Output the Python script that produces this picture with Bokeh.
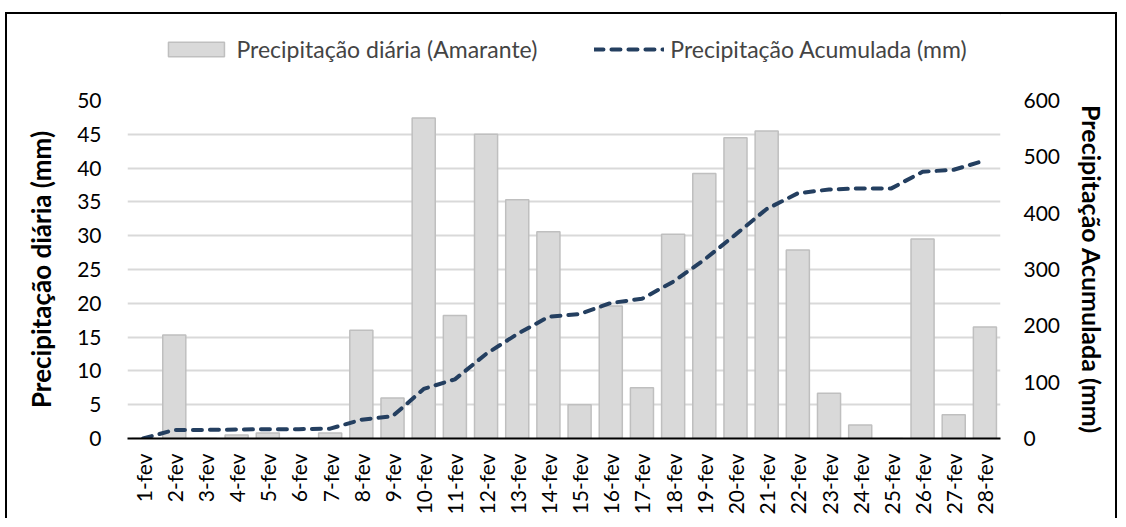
from bokeh.plotting import figure
from bokeh.models import (Range1d, LinearAxis, Legend, LegendItem, FactorRange,
                          ColumnDataSource, SingleIntervalTicker)
from bokeh.layouts import column
from bokeh.embed import file_html
from bokeh.resources import INLINE
import math

days = ["1-fev", "2-fev", "3-fev", "4-fev", "5-fev", "6-fev", "7-fev", "8-fev",
        "9-fev", "10-fev", "11-fev", "12-fev", "13-fev", "14-fev", "15-fev",
        "16-fev", "17-fev", "18-fev", "19-fev", "20-fev", "21-fev", "22-fev",
        "23-fev", "24-fev", "25-fev", "26-fev", "27-fev", "28-fev"]
daily = [0, 15.3, 0, 0.5, 0.8, 0, 0.8, 16.0, 6.0, 47.4, 18.2, 45.0, 35.3, 30.6,
         5.0, 19.6, 7.5, 30.2, 39.2, 44.5, 45.5, 27.9, 6.7, 2.0, 0, 29.5, 3.5, 16.5]
accum = [0, 15.3, 15.3, 15.8, 16.6, 16.6, 17.4, 33.4, 39.4, 88.0, 105.0, 150.0,
         185.3, 215.9, 220.9, 240.5, 248.0, 278.2, 317.4, 361.9, 407.4, 435.3,
         442.0, 444.0, 444.0, 473.5, 477.0, 493.5]
labels = ["Precipitação diária (Amarante)", "Precipitação Acumulada (mm)"]

FONT = "Lato"
BAR_STYLE = dict(fill_color="#d9d9d9", line_color="#bfbfbf", line_width=1.5)
LINE_STYLE = dict(line_color="#243f60", line_width=4, line_dash="9 8", line_cap="round")

src = ColumnDataSource(dict(day=days, daily=daily, accum=accum))

# ---------- main chart ----------
p = figure(x_range=FactorRange(*days, range_padding=0), y_range=Range1d(0, 50),
           width=1112, height=436,
           min_border_left=120, min_border_right=119, min_border_top=18, min_border_bottom=80,
           output_backend="svg", toolbar_location=None)
p.extra_y_ranges = {"acc": Range1d(0, 600)}
p.outline_line_color = None
p.background_fill_color = "white"
p.border_fill_color = "white"
p.styles = {"margin-left": "5px",
            "border-left": "2px solid black", "border-right": "2px solid black"}

bars = p.vbar(x="day", top="daily", width=0.74, source=src, **BAR_STYLE)
line = p.line(x="day", y="accum", source=src, y_range_name="acc", **LINE_STYLE)

p.xgrid.grid_line_color = None
p.ygrid.grid_line_color = "#d9d9d9"
p.ygrid.grid_line_width = 2

ya = p.yaxis[0]
ya.ticker = SingleIntervalTicker(interval=5)
ya.axis_line_color = None
ya.major_tick_line_color = None
ya.minor_tick_line_color = None
ya.major_label_standoff = 20
ya.major_label_text_font = FONT
ya.major_label_text_font_size = "21px"
ya.major_label_text_color = "black"
ya.axis_label = "Precipitação diária (mm)"
ya.axis_label_text_font = FONT
ya.axis_label_text_font_style = "bold"
ya.axis_label_text_font_size = "26px"
ya.axis_label_standoff = 17
ya.axis_label_text_color = "black"

ra = LinearAxis(y_range_name="acc", ticker=SingleIntervalTicker(interval=100))
ra.axis_line_color = None
ra.major_tick_line_color = None
ra.minor_tick_line_color = None
ra.major_label_standoff = 17
ra.major_label_text_font = FONT
ra.major_label_text_font_size = "21px"
ra.major_label_text_color = "black"
ra.axis_label = "Precipitação Acumulada (mm)"
ra.axis_label_text_font = FONT
ra.axis_label_text_font_style = "bold"
ra.axis_label_text_font_size = "25px"
ra.axis_label_standoff = 14
ra.axis_label_text_color = "black"
p.add_layout(ra, "right")

xa = p.xaxis[0]
xa.axis_line_color = "black"
xa.axis_line_width = 2
xa.major_tick_line_color = None
xa.minor_tick_line_color = None
xa.major_label_orientation = math.pi / 2
xa.major_label_standoff = 9
xa.major_label_text_font = FONT
xa.major_label_text_font_size = "21px"
xa.major_label_text_color = "black"

# ---------- legend strip above the chart ----------
lf = figure(x_range=Range1d(0, 1), y_range=Range1d(0, 1), width=1112, height=70,
            min_border_left=24, min_border_right=0, min_border_top=0, min_border_bottom=0,
            x_axis_type=None, y_axis_type=None,
            output_backend="svg", toolbar_location=None)
lf.outline_line_color = None
lf.background_fill_color = "white"
lf.border_fill_color = "white"
lf.styles = {"margin-left": "5px", "margin-top": "12px",
             "border-left": "2px solid black", "border-top": "2px solid black",
             "border-right": "2px solid black"}
# legend-only proxies, kept outside the strip's visible range
lbar = lf.vbar(x=[10], top=[10], bottom=[9], width=0.74, **BAR_STYLE)
lline = lf.line(x=[10, 11], y=[10, 10], **LINE_STYLE)

legend = Legend(items=[LegendItem(label=labels[0], renderers=[lbar]),
                       LegendItem(label=labels[1], renderers=[lline])],
                orientation="horizontal", location="center",
                glyph_width=70, glyph_height=18, label_height=20,
                label_text_font=FONT, label_text_font_size="23px",
                label_standoff=6, spacing=57, padding=0, margin=0,
                border_line_color=None, background_fill_alpha=0)
lf.add_layout(legend, "center")

layout = column(lf, p, spacing=0)
open("out.html", "w").write(file_html(layout, INLINE))
